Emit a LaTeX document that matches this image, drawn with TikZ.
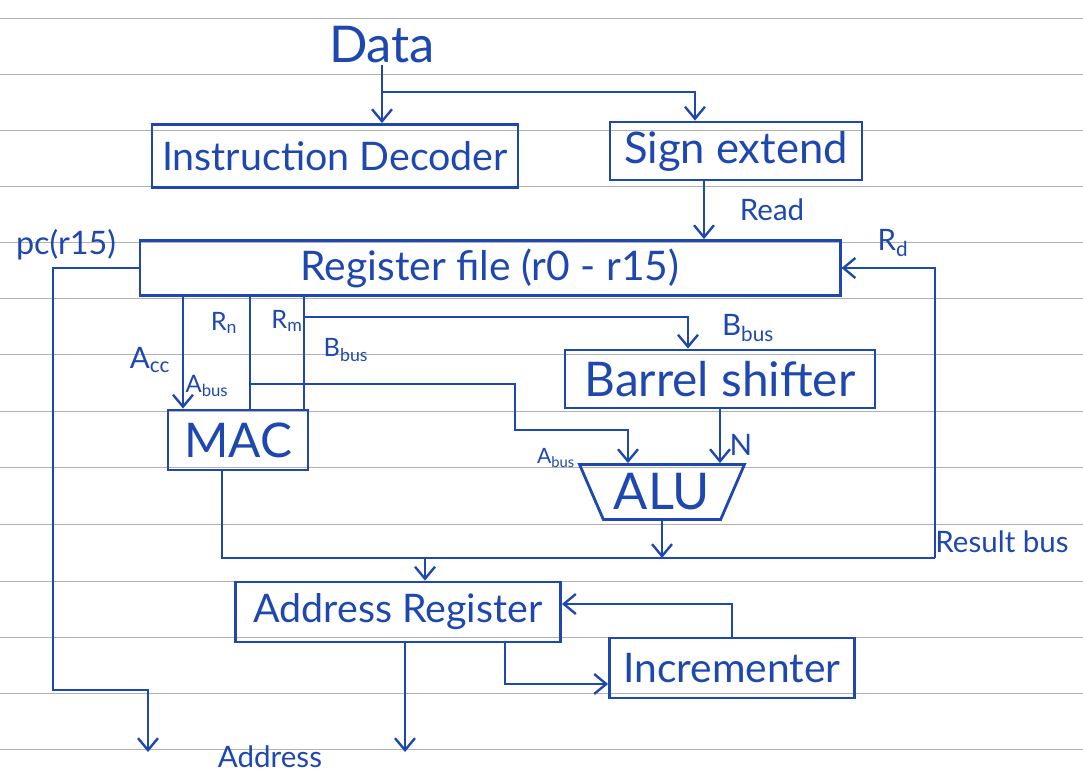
\documentclass[tikz,border=0pt]{standalone}
\usepackage{fontspec}
\setmainfont{Lato}
\usetikzlibrary{arrows.meta,shapes.geometric}
\definecolor{ink}{RGB}{30,72,175}
\definecolor{ruling}{RGB}{178,178,182}

\begin{document}
\begin{tikzpicture}[x=0.025cm, y=-0.025cm,
  blk/.style={draw=ink, line width=2pt, text=ink, inner sep=0pt,
              font=\fontsize{28}{30}\selectfont},
  wire/.style={draw=ink, line width=1.7pt},
  arr/.style={wire, -{Straight Barb[length=3mm, width=5mm]}},
  lbl/.style={text=ink, inner sep=1pt, font=\fontsize{21}{23}\selectfont},
  paper/.style={draw=ruling, line width=0.7pt}]
\useasboundingbox (0,0) rectangle (1083,775);
% ruled paper
\foreach \ry in {18,74,130,186,242,298,354,411,467,524,581,637,693,749}
  \draw[paper] (0,\ry) -- (1083,\ry);
% inputs
\node[lbl, font=\fontsize{36}{38}\selectfont] (data) at (382,45) {Data};
\node[blk, minimum width=9.15cm, minimum height=1.575cm] (dec) at (335,156) {Instruction Decoder};
\node[blk, minimum width=6.3cm, minimum height=1.45cm, font=\fontsize{31}{33}\selectfont] (sign) at (736,151) {Sign extend};
% register file and its ports
\node[blk, minimum width=17.5cm, minimum height=1.375cm, font=\fontsize{29}{31}\selectfont] (reg) at (490,268) {Register file (r0 - r15)};
\node[lbl, font=\fontsize{23}{25}\selectfont] (pc) at (66,245) {pc(r15)};
\node[lbl] (read) at (772,210) {Read};
\node[lbl] (rd) at (893,243) {R\textsubscript{d}};
% datapath blocks
\node[blk, minimum width=3.5cm, minimum height=1.5cm, font=\fontsize{34}{36}\selectfont] (mac) at (238,440) {MAC};
\node[blk, minimum width=7.75cm, minimum height=1.45cm, font=\fontsize{34}{36}\selectfont] (bsh) at (720,379) {Barrel shifter};
\node[blk, trapezium, shape border rotate=180, trapezium left angle=62,
      trapezium right angle=62, trapezium stretches=true,
      minimum width=4.125cm, minimum height=1.375cm,
      font=\fontsize{36}{38}\selectfont] (alu) at (662,492) {ALU};
\node[blk, minimum width=8.125cm, minimum height=1.5cm, font=\fontsize{28}{30}\selectfont] (addr) at (398,612) {Address Register};
\node[blk, minimum width=6.125cm, minimum height=1.5cm, font=\fontsize{29}{31}\selectfont] (inc) at (732,668) {Incrementer};
% bus labels
\node[lbl] (acc) at (150,360) {A\textsubscript{cc}};
\node[lbl, font=\fontsize{18}{20}\selectfont] (rn) at (224,323) {R\textsubscript{n}};
\node[lbl, font=\fontsize{18}{20}\selectfont] (rm) at (287,321) {R\textsubscript{m}};
\node[lbl, font=\fontsize{18}{20}\selectfont] (bbl) at (346,350) {B\textsubscript{bus}};
\node[lbl] (bbr) at (748,328) {B\textsubscript{bus}};
\node[lbl, font=\fontsize{17}{19}\selectfont] (abl) at (207,386) {A\textsubscript{bus}};
\node[lbl, font=\fontsize{15}{17}\selectfont] (abr) at (556,458) {A\textsubscript{bus}};
\node[lbl] (nl) at (741,445) {N};
\node[lbl] (res) at (1002,542) {Result bus};
\node[lbl] (adl) at (270,757) {Address};
% junction points
\coordinate (split) at (382,92);
\coordinate (accx) at (183,0);
\coordinate (rnx) at (250,0);
\coordinate (rmx) at (304,0);
\coordinate (abus) at (250,384);
\coordinate (abend) at (515,430);
\coordinate (bbus) at (304,317);
\coordinate (busw) at (222,558);
\coordinate (buse) at (935,558);
\coordinate (atap) at (425,558);
\coordinate (pcbend) at (53,690);
\coordinate (pcout) at (148,752);
\coordinate (aout) at (405,752);
\coordinate (incx) at (505,0);
% wiring
\draw[arr] (data.south) -- (data.south |- dec.north);
\draw[arr] (split) -| ([xshift=-1.025cm]sign.north);
\draw[arr] ([xshift=-0.8cm]sign.south) -- ([xshift=-0.8cm]sign.south |- reg.north);
\draw[arr] (reg.west) -| (pcbend) -| (pcout);
\draw[arr] (reg.south -| accx) -- (mac.north -| accx);
\draw[wire] (reg.south -| rnx) -- (mac.north -| rnx);
\draw[wire] (reg.south -| rmx) -- (mac.north -| rmx);
\draw[arr] (abus) -| (abend) -| ([xshift=-0.85cm]alu.north);
\draw[arr] (bbus) -| ([xshift=-0.8cm]bsh.north);
\draw[arr] (bsh.south) -- (bsh.south |- alu.north);
\draw[arr] (alu.south) -- (alu.south |- busw);
\draw[wire] (mac.south -| busw) -- (busw) -- (buse);
\draw[arr] (buse) |- (reg.east);
\draw[arr] (atap) -- (atap |- addr.north);
\draw[arr] (addr.south -| aout) -- (aout);
\draw[arr] (addr.south -| incx) |- ([yshift=-0.4cm]inc.west);
\draw[arr] (inc.north) |- ([yshift=0.2cm]addr.east);
\end{tikzpicture}
\end{document}
